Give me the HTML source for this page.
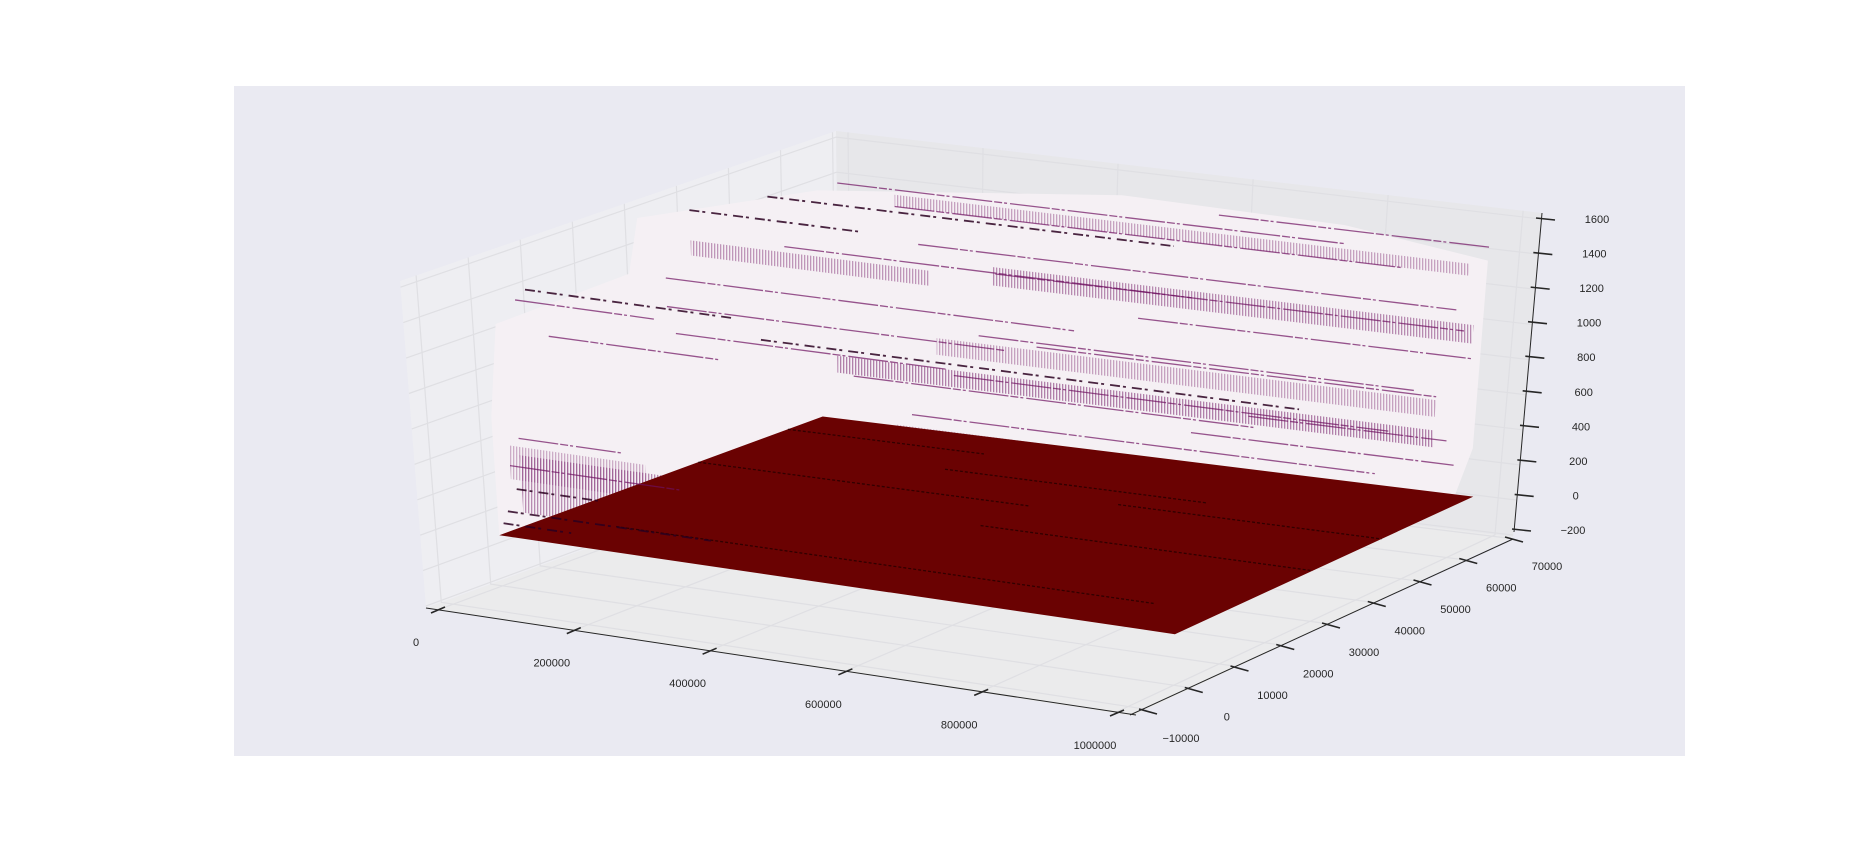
<!DOCTYPE html>
<html><head><meta charset="utf-8"><style>
html,body{margin:0;padding:0;background:#fff;}
svg{display:block;font-family:"Liberation Sans",sans-serif;}
</style></head><body>
<svg id="chart" width="1872" height="864" viewBox="0 0 1872 864" xmlns="http://www.w3.org/2000/svg">
<defs>
<pattern id="hatch" width="3" height="6" patternUnits="userSpaceOnUse">
<rect x="0" y="0" width="1.3" height="6" fill="#6E1060"/>
</pattern>
</defs>
<rect x="0" y="0" width="1872" height="864" fill="#ffffff"/>
<rect x="234" y="86" width="1451" height="670" fill="#EAEAF2"/>
<g id="panes"></g>
<g id="grid"></g>
<g id="cloud"></g>
<g id="floor"></g>
<g id="streaks"></g>
<g id="axes"></g>
</svg>
<script>
// ---- data ----
const xTicks = [0, 200000, 400000, 600000, 800000, 1000000];
const xTickLabels = ["0","200000","400000","600000","800000","1000000"];
const yTicks = [-10000, 0, 10000, 20000, 30000, 40000, 50000, 60000, 70000];
const yTickLabels = ["\u221210000","0","10000","20000","30000","40000","50000","60000","70000"];
const zTicks = [-200, 0, 200, 400, 600, 800, 1000, 1200, 1400, 1600];
const zTickLabels = ["\u2212200","0","200","400","600","800","1000","1200","1400","1600"];
// floor extent (dense sheet at z=0)
const floorX = [0, 1000000];
const floorY = [0, 65000];
const floorZ = 0;
// dark lines within the floor: [x0, x1, y]
const floorLineX0 = [300000, 0, 500000, 100000, 600000, 0];
const floorLineX1 = [700000, 500000, 1000000, 900000, 1000000, 300000];
const floorLineY = [50000, 40000, 30000, 10000, 45000, 58000];
// scatter cloud outline [x, y, z]
const cloudOutline = [[0,0,0],[0,0,700],[0,2000,1230],[0,28000,1250],[0,30000,1560],[150000,45000,1640],[500000,58000,1640],[800000,62000,1560],[1000000,64000,1420],[1000000,64000,300],[1000000,60000,0]];
// fuzzy bands: [x0, x1, y, z0, z1, opacity]
const bandX0 = [280000, 0, 100000, 250000, 0, 150000, 300000, 0];
const bandX1 = [1000000, 350000, 1000000, 1000000, 280000, 1000000, 900000, 200000];
const bandY  = [62000, 40000, 55000, 55000, 5000, 60000, 40000, 3000];
const bandZ0 = [950, 1230, 420, 600, 80, 1380, 250, 300];
const bandZ1 = [1060, 1320, 520, 700, 420, 1450, 380, 500];
const bandOp = [0.45, 0.4, 0.5, 0.35, 0.45, 0.35, 0.25, 0.3];
// streak lines: [x0, x1, y, z]
const streakX0 = [0, 50000, 150000, 0, 600000, 0, 0, 100000, 200000, 0, 300000, 350000, 0, 100000, 400000, 0, 0, 0, 500000, 200000, 0, 50000, 250000, 600000, 0, 0, 350000, 700000];
const streakX1 = [250000, 800000, 900000, 600000, 1000000, 300000, 200000, 700000, 1000000, 500000, 1000000, 1000000, 250000, 900000, 1000000, 150000, 250000, 300000, 1000000, 800000, 120000, 450000, 950000, 1000000, 100000, 600000, 1000000, 1000000];
const streakY  = [40000, 62000, 60000, 55000, 64000, 8000, 6000, 45000, 58000, 35000, 60000, 50000, 12000, 40000, 55000, 5000, 3000, 2000, 62000, 45000, 4000, 30000, 50000, 60000, 1000, 35000, 45000, 58000];
const streakZ  = [1500, 1450, 1380, 1420, 1500, 1370, 1330, 1280, 1200, 980, 1050, 820, 1050, 780, 720, 520, 380, 120, 860, 560, 230, 900, 300, 250, 60, 1150, 640, 420];
const streakDark = [1, 0, 0, 1, 0, 1, 0, 0, 0, 0, 0, 0, 0, 1, 0, 0, 0, 1, 0, 0, 1, 0, 0, 0, 1, 0, 0, 0];

// ---- geometry ----
const NS = "http://www.w3.org/2000/svg";
const C = {p000:[426,608],p100:[1133,716],p010:[840,455],p110:[1513,537],
           p001:[400,281],p101:[1138,386],p011:[836,131],p111:[1542,213]};
const XR=[-17800,1028000], YR=[-13100,70670], ZRbox=[-211,1635], ZRdata=[-300,1635];
function lerp(a,b,t){return [a[0]+(b[0]-a[0])*t, a[1]+(b[1]-a[1])*t];}
function tri(u,v,w){
  const b=lerp(lerp(C.p000,C.p100,u),lerp(C.p010,C.p110,u),v);
  const t=lerp(lerp(C.p001,C.p101,u),lerp(C.p011,C.p111,u),v);
  return lerp(b,t,w);
}
function projBox(x,y,z){return tri((x-XR[0])/(XR[1]-XR[0]),(y-YR[0])/(YR[1]-YR[0]),(z-ZRbox[0])/(ZRbox[1]-ZRbox[0]));}
function proj(x,y,z){return tri((x-XR[0])/(XR[1]-XR[0]),(y-YR[0])/(YR[1]-YR[0]),(z-ZRdata[0])/(ZRdata[1]-ZRdata[0]));}
function mk(tag,attrs,parent){const e=document.createElementNS(NS,tag);for(const k in attrs)e.setAttribute(k,attrs[k]);parent.appendChild(e);return e;}
function pts(a){return a.map(p=>p[0].toFixed(1)+","+p[1].toFixed(1)).join(" ");}

const panes=document.getElementById('panes');
let e=mk('polygon',{points:pts([C.p000,C.p010,C.p011,C.p001]),fill:'#EEEEF2'},panes);


e=mk('polygon',{points:pts([C.p010,C.p110,C.p111,C.p011]),fill:'#E7E7EA'},panes);


e=mk('polygon',{points:pts([C.p000,C.p100,C.p110,C.p010]),fill:'#EBEBEC'},panes);



const grid=document.getElementById('grid');
const gs={stroke:'#DFDFE3','stroke-width':1.2,fill:'none'};
xTicks.forEach(v=>{
  const a=projBox(v,YR[0],ZRbox[0]),b=projBox(v,YR[1],ZRbox[0]),c=projBox(v,YR[1],ZRbox[1]);
  const l=mk('polyline',Object.assign({points:pts([a,b,c])},gs),grid);
  
  
});
yTicks.forEach(v=>{
  const a=projBox(XR[1],v,ZRbox[0]),b=projBox(XR[0],v,ZRbox[0]),c=projBox(XR[0],v,ZRbox[1]);
  const l=mk('polyline',Object.assign({points:pts([a,b,c])},gs),grid);
  
  
});
zTicks.forEach(v=>{
  const a=projBox(XR[0],YR[0],v),b=projBox(XR[0],YR[1],v),c=projBox(XR[1],YR[1],v);
  const l=mk('polyline',Object.assign({points:pts([a,b,c])},gs),grid);
  
  
});

const cloud=document.getElementById('cloud');
e=mk('polygon',{points:pts(cloudOutline.map(p=>proj(p[0],p[1],p[2]))),fill:'#F5F0F4'},cloud);


for(let i=0;i<bandX0.length;i++){
  const q=[proj(bandX0[i],bandY[i],bandZ0[i]),proj(bandX1[i],bandY[i],bandZ0[i]),proj(bandX1[i],bandY[i],bandZ1[i]),proj(bandX0[i],bandY[i],bandZ1[i])];
  const b=mk('polygon',{points:pts(q),fill:'url(#hatch)','fill-opacity':bandOp[i]},cloud);
  
  
}

const st=document.getElementById('streaks');
for(let i=0;i<streakX0.length;i++){
  const a=proj(streakX0[i],streakY[i],streakZ[i]),b=proj(streakX1[i],streakY[i],streakZ[i]);
  const dark=streakDark[i]===1;
  const l=mk('line',{x1:a[0],y1:a[1],x2:b[0],y2:b[1],stroke:dark?'#2A0020':'#6E1060','stroke-width':dark?1.8:1.3,'stroke-opacity':dark?0.85:0.7,'stroke-dasharray':dark?'10 3 3 6':'40 2 8 2 3 3'},st);
  
  
}

const fl=document.getElementById('floor');
const fq=[proj(floorX[0],floorY[0],floorZ),proj(floorX[1],floorY[0],floorZ),proj(floorX[1],floorY[1],floorZ),proj(floorX[0],floorY[1],floorZ)];
e=mk('polygon',{points:pts(fq),fill:'#6A0202'},fl);


for(let i=0;i<floorLineX0.length;i++){
  const a=proj(floorLineX0[i],floorLineY[i],floorZ),b=proj(floorLineX1[i],floorLineY[i],floorZ);
  const l=mk('line',{x1:a[0],y1:a[1],x2:b[0],y2:b[1],stroke:'#1a0000','stroke-width':1.3,'stroke-opacity':0.7,'stroke-dasharray':'3 2'},fl);
  
  
}

const ax=document.getElementById('axes');
function axisLine(a,b,name){const l=mk('line',{x1:a[0],y1:a[1],x2:b[0],y2:b[1],stroke:'#262626','stroke-width':1},ax);
  
  }
axisLine([426,608],[1136,715],'x-axis-line');
axisLine([1130,715],[1513,539],'y-axis-line');
axisLine([1514,532],[1542,213],'z-axis-line');
function tickSet(vals,labels,v0,v1,p0,p1,mark,off,name,anchor){
  vals.forEach((v,i)=>{
    const t=(v-v0)/(v1-v0);
    const p=lerp(p0,p1,t);
    const m=mk('line',{x1:p[0]+mark[0],y1:p[1]+mark[1],x2:p[0]+mark[2],y2:p[1]+mark[3],stroke:'#262626','stroke-width':1.6},ax);
    
    
    const tx=mk('text',{x:p[0]+off[0],y:p[1]+off[1]+4,'font-size':11,fill:'#262626','text-anchor':anchor},ax);
    tx.textContent=labels[i];
    
    
  });
}
tickSet(xTicks,xTickLabels,0,1000000,[438,610],[1117,713],[-7,3,7,-3],[-22,32],'x','middle');
tickSet(yTicks,yTickLabels,-10000,70000,[1144,711],[1510,539],[-5,-2,13,3],[37,27],'y','middle');
tickSet(zTicks,zTickLabels,-200,1600,[1520,530],[1544,219],[-8,-1,11,1],[53,0],'z','middle');
</script>
</body></html>
